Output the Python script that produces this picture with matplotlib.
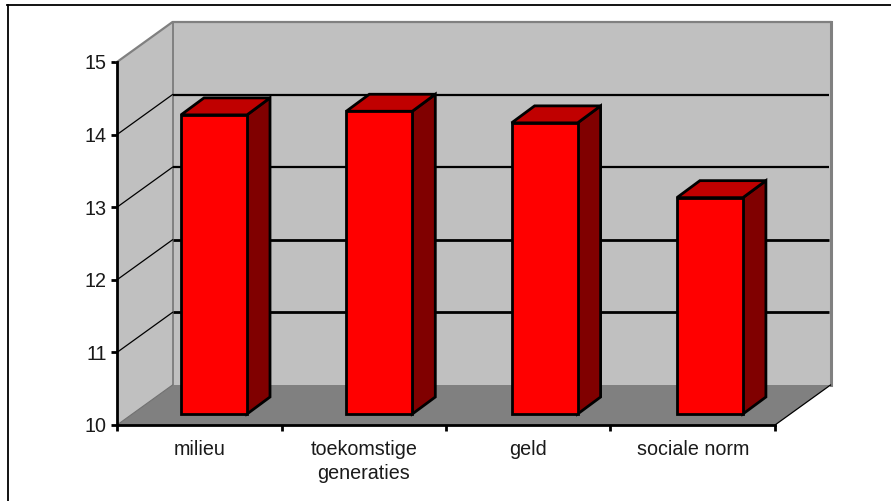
import matplotlib
matplotlib.use("Agg")
import matplotlib.pyplot as plt
from matplotlib.patches import Polygon
from matplotlib.lines import Line2D

plt.rcParams['font.family'] = ['Liberation Sans', 'DejaVu Sans']

categories = ['milieu', 'toekomstige\ngeneraties', 'geld', 'sociale norm']
values = [14.12, 14.17, 14.01, 12.98]
y_ticks = [10, 11, 12, 13, 14, 15]
grid_widths = {11: 2.0, 12: 2.0, 13: 1.6, 14: 1.6}

W, H = 891, 501
fig = plt.figure(figsize=(W / 100, H / 100), dpi=100)
L, R, T, B = 117, 775, 62, 425
ax = fig.add_axes([L / W, 1 - B / H, (R - L) / W, (B - T) / H])
ax.set_xlim(0, len(categories))
ax.set_ylim(10, 15)
ax.patch.set_visible(False)

ux = (R - L) / len(categories)   # px per category
uy = (B - T) / 5                 # px per unit value
DX, DY = 55.5 / ux, 40 / uy      # wall depth in data units


def poly(pts, fc, ec='none', lw=0, z=1):
    ax.add_patch(Polygon(pts, closed=True, fc=fc, ec=ec, lw=lw, zorder=z,
                         clip_on=False, joinstyle='miter'))


n = len(categories)
GREY = '#808080'
# back wall, floor, side wall
poly([(DX, 10 + DY), (n + DX, 10 + DY), (n + DX, 15 + DY), (DX, 15 + DY)], '#c0c0c0', z=1)
poly([(0, 10), (DX, 10 + DY), (DX, 15 + DY), (0, 15)], '#c0c0c0', z=1)
poly([(0, 10), (n, 10), (n + DX, 10 + DY), (DX, 10 + DY)], GREY, z=1)
# outline
ax.plot([0, DX, n + DX], [15, 15 + DY, 15 + DY], color=GREY, lw=1.6, zorder=2, clip_on=False)
ax.plot([DX, DX], [10 + DY, 15 + DY], color=GREY, lw=1.4, zorder=2, clip_on=False)
ax.plot([n + DX, n + DX], [10 + DY, 15 + DY], color=GREY, lw=2.2, zorder=2, clip_on=False)
ax.plot([0, DX], [10, 10 + DY], color='#707070', lw=0.8, zorder=2, clip_on=False)
ax.plot([n, n + DX], [10, 10 + DY], color='black', lw=0.9, zorder=2, clip_on=False)
# gridlines
for t in y_ticks[1:-1]:
    ax.plot([0, DX], [t, t + DY], color='black', lw=0.9, zorder=2, clip_on=False)
    ax.plot([DX, n + DX - 0.01], [t + DY, t + DY], color='black', lw=grid_widths[t], zorder=2,
            solid_capstyle='butt', clip_on=False)

# bars
bar_w = 66 / ux
dx, dy = 23 / ux, 17 / uy              # bar depth
off_y = 11 / uy
for i, v in enumerate(values):
    x0 = i + (64 + 0.8 * i) / ux
    x1 = x0 + bar_w
    y0, y1 = 10 + off_y, v + off_y
    ec = dict(ec='black', lw=2.0, z=4)
    poly([(x1, y0), (x1 + dx, y0 + dy), (x1 + dx, y1 + dy), (x1, y1)], '#800000', **ec)
    poly([(x0, y1), (x1, y1), (x1 + dx, y1 + dy), (x0 + dx, y1 + dy)], '#c00000', **ec)
    poly([(x0, y0), (x1, y0), (x1, y1), (x0, y1)], '#ff0000', **ec)

# axes
for s in ['top', 'right']:
    ax.spines[s].set_visible(False)
for s in ['left', 'bottom']:
    ax.spines[s].set_linewidth(2.0)
    ax.spines[s].set_zorder(5)
ax.set_yticks(y_ticks)
ax.set_xticks(range(n + 1))
ax.set_xticklabels([])
ax.set_xticks([i + 0.5 for i in range(n)], categories, minor=True)
ax.tick_params(axis='x', which='major', direction='out', length=4, width=2.0)
ax.tick_params(axis='x', which='minor', length=0, pad=11, labelsize=14.2, labelcolor='#1a1a1a')
ax.tick_params(axis='y', direction='out', length=4, width=2.0, pad=3.5, labelsize=14.2, labelcolor='#1a1a1a')
for lab in ax.get_xminorticklabels():
    lab.set_linespacing(1.3)

# page frame lines
fig.add_artist(Line2D([7.5 / W, 7.5 / W], [0, 1 - 5 / H], color='black', lw=1.3,
                      transform=fig.transFigure))
fig.add_artist(Line2D([7 / W, 1], [1 - 5 / H, 1 - 5 / H], color='black', lw=1.3,
                      transform=fig.transFigure))
fig.savefig('out.png', dpi=100, facecolor='white')
